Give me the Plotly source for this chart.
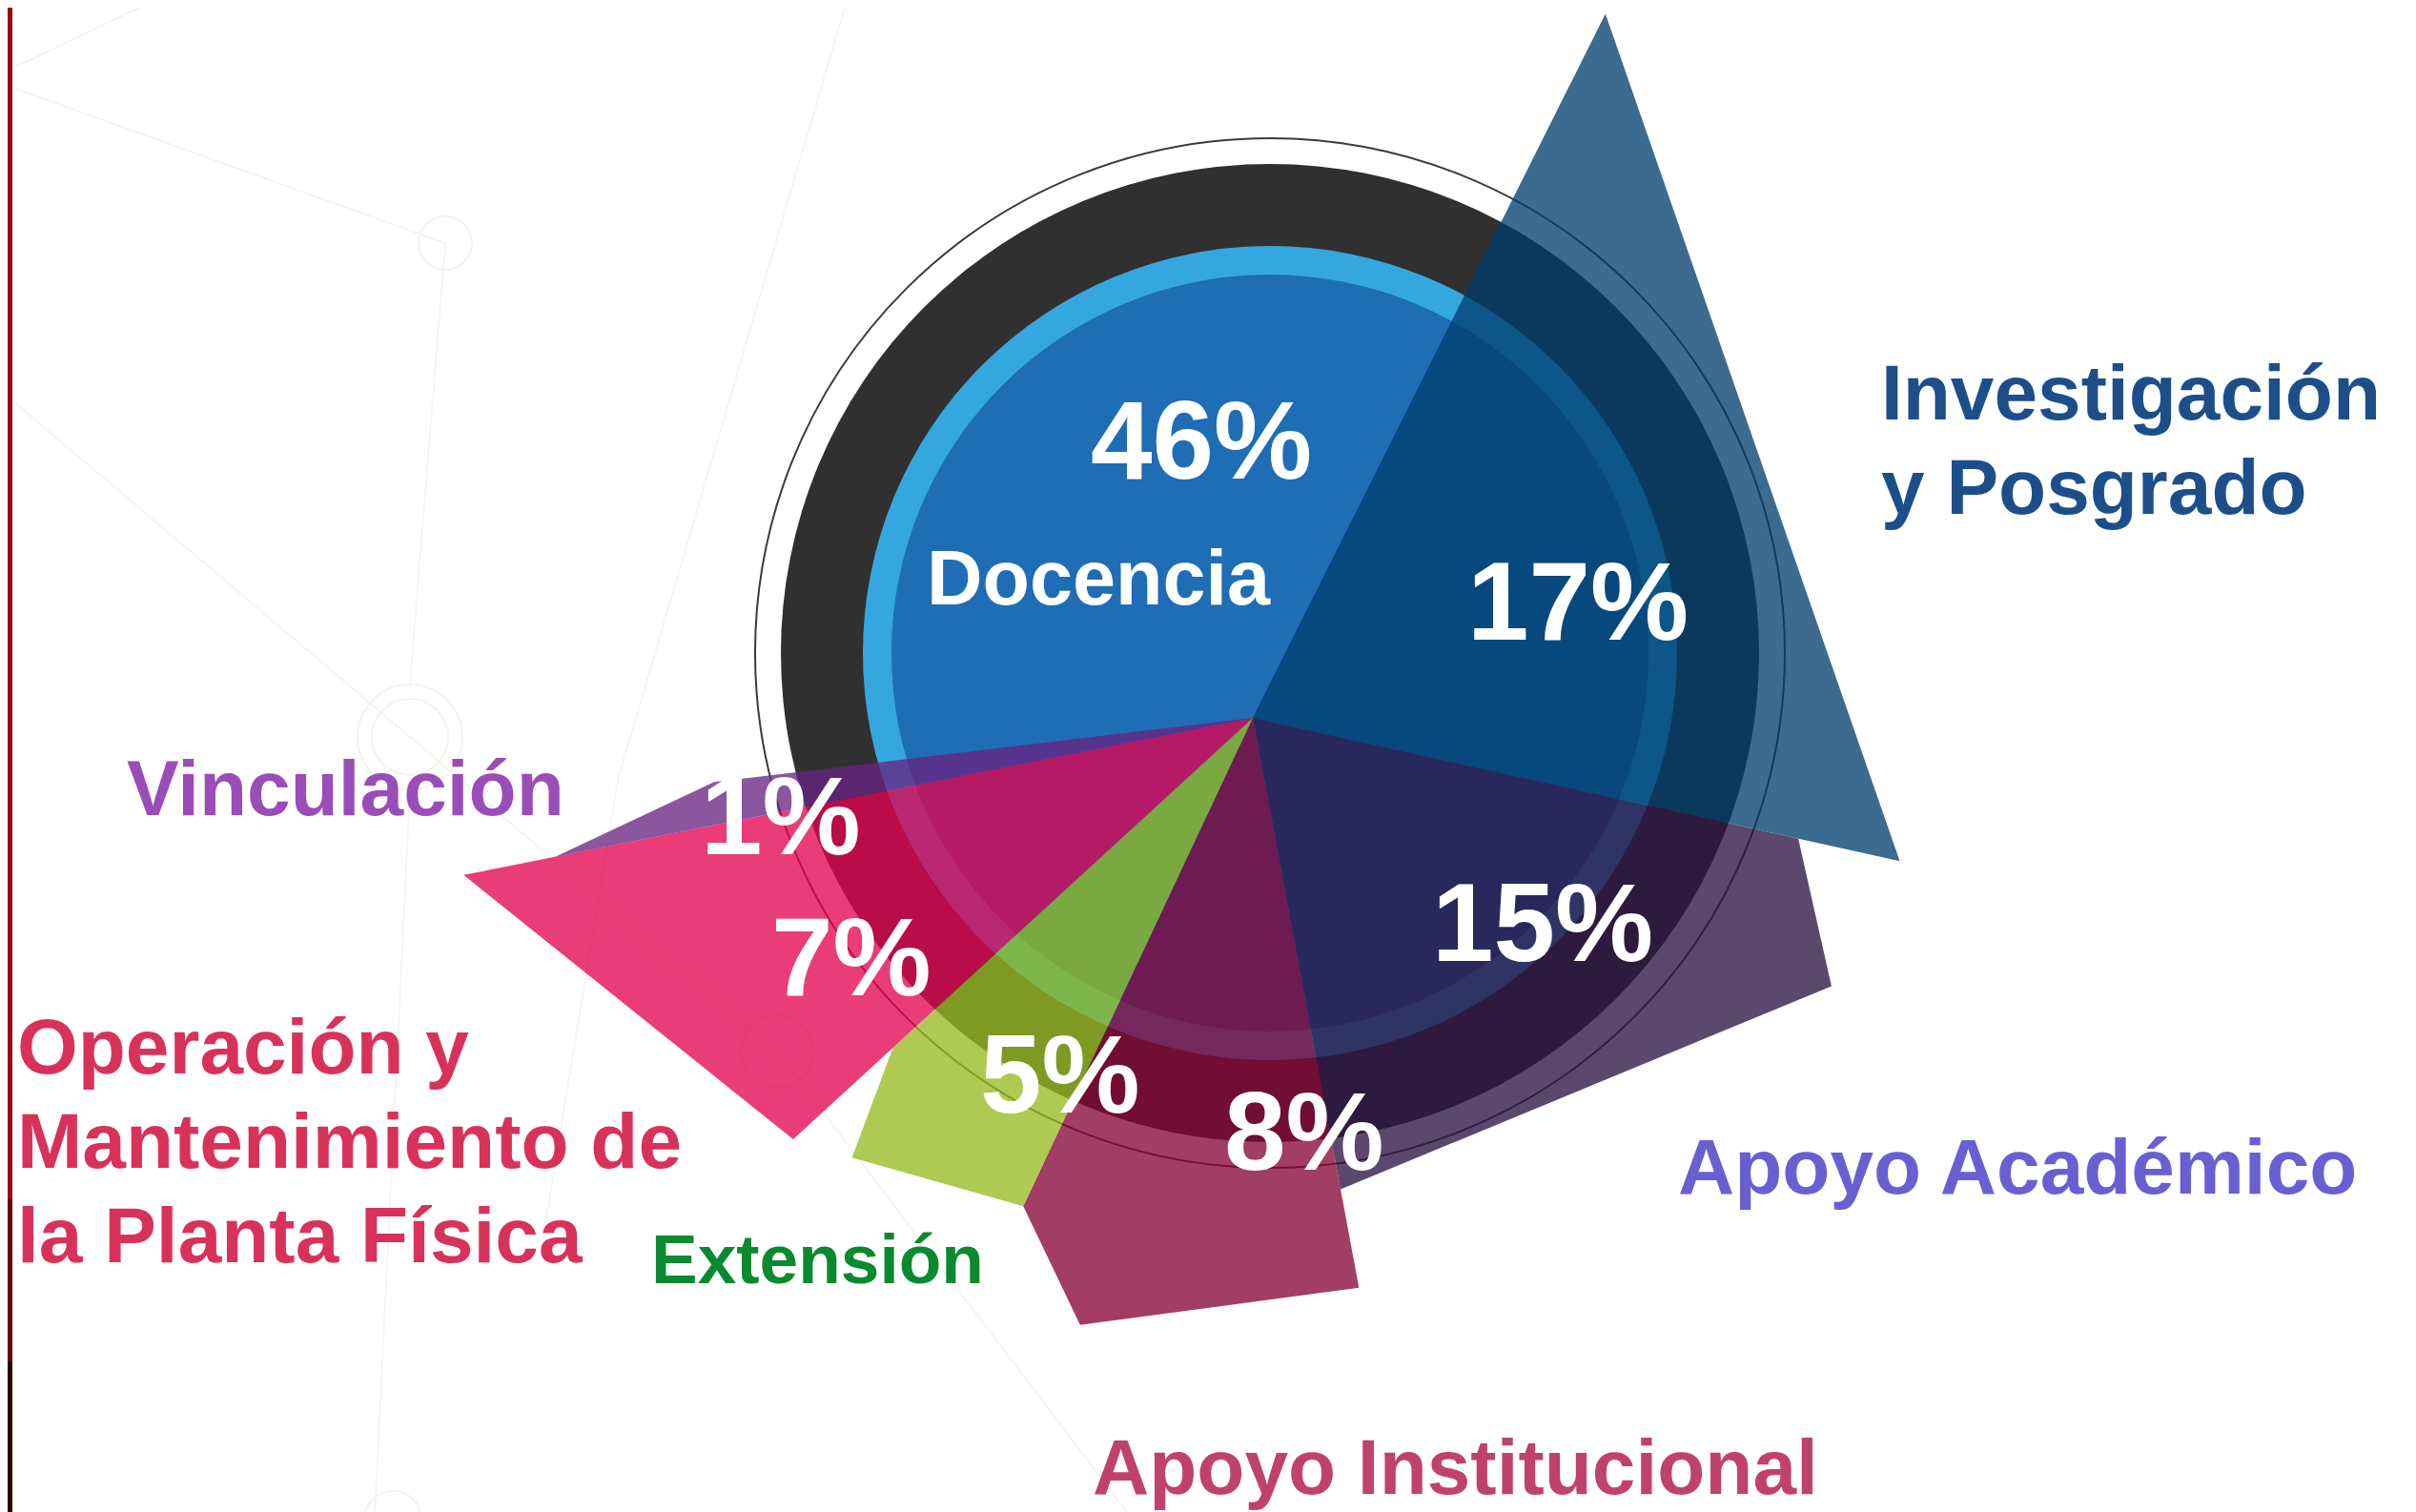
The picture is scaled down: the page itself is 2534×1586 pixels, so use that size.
import math
import plotly.graph_objects as go

# ---------------- data ----------------
categories = [
    "Docencia",
    "Investigación y Posgrado",
    "Apoyo Académico",
    "Apoyo Institucional",
    "Extensión",
    "Operación y Mantenimiento de la Planta Física",
    "Vinculación",
]
values = [46, 17, 15, 8, 5, 7, 1]  # percent of budget

# ---------------- style / layout ----------------
W, H = 2534, 1586
FONT = "Liberation Sans, Arial, sans-serif"
HUB = (1306, 745)          # common vertex of the wedges (px)
RING_C = (1324, 677)       # centre of the Docencia disc (px)
ARC_START, ARC_END = 26.6, 263.2   # sweep (deg, clockwise from 12 o'clock) shared by the outer slices

wedge_fill = [None,
              "rgba(0,61,108,0.76)",
              "rgba(45,20,66,0.78)",
              "rgba(134,3,52,0.77)",
              "rgba(149,186,30,0.77)",
              "rgba(226,1,79,0.77)",
              "rgba(103,35,129,0.77)"]
# outer outline of each wedge: (fraction of the slice's angular span, distance from hub in px)
wedge_profile = [None,
                 [(0, 826), (1, 695)],
                 [(0, 586), (0.185, 669), (1, 503)],
                 [(0, 608), (0.74, 662), (1, 566)],
                 [(0, 566), (0.77, 624), (1, 512)],
                 [(0, 654), (1, 844)],
                 [(0, 746), (1, 569)]]

# category label: left x, first baseline, font size, colour, words per line
TX, TY = -9, -7   # fine offset of all texts
label_style = [
    (972, 633, 81, "#ffffff", [1]),
    (1973, 439, 82, "#1c4f8a", [1, 2]),
    (1760, 1251, 82, "#6a5fd2", [2]),
    (1146, 1566, 82, "#c0426c", [2]),
    (683, 1345, 73, "#0a8a2f", [1]),
    (18, 1125, 82, "#d9325a", [2, 2, 3]),
    (133, 854, 82, "#9a4db9", [1]),
]
LINE_GAP = 99
# percent label centres (px)
pct_pos = [(1261, 461), (1656, 630), (1619, 967), (1369, 1186), (1113, 1126), (894, 1003), (820, 855)]
PCT_SIZE = 116

fig = go.Figure()
shapes = []

# faint background network
bg_col = "#f6f2ec"
bg_lines = [((0, 66), (138, 0)), ((0, 82), (459, 247)), ((459, 247), (422, 709)),
            ((0, 408), (422, 765)), ((878, 0), (640, 810)), ((422, 820), (385, 1586)),
            ((422, 765), (807, 1095)), ((807, 1095), (1180, 1586)), ((640, 810), (560, 1300))]
for (x0, y0), (x1, y1) in bg_lines:
    shapes.append(dict(type="line", xref="x", yref="y", x0=x0, y0=y0, x1=x1, y1=y1,
                       line=dict(color=bg_col, width=1.5), layer="below"))
for (cx, cy, r) in [(459, 247, 28), (422, 765, 55), (422, 765, 40), (807, 1095, 38), (404, 1586, 30)]:
    shapes.append(dict(type="circle", xref="x", yref="y", x0=cx - r, y0=cy - r, x1=cx + r, y1=cy + r,
                       line=dict(color=bg_col, width=2), fillcolor="rgba(0,0,0,0)", layer="below"))

# left border strip
strip = [(0, 1250, "#970b0e"), (1250, 1420, "#6a0607"), (1420, 1586, "#2e0303")]
for y0, y1, c in strip:
    shapes.append(dict(type="rect", xref="x", yref="y", x0=0, x1=5, y0=y0, y1=y1,
                       fillcolor=c, line=dict(width=0), layer="below"))

# Docencia disc (rings)
cx, cy = RING_C
for r, fill, line in [(540, "rgba(0,0,0,0)", dict(color="#3a3a3a", width=2)),
                      (513, "#303030", dict(width=0)),
                      (427, "#35a7df", dict(width=0)),
                      (397, "#1e6db5", dict(width=0))]:
    shapes.append(dict(type="circle", xref="x", yref="y", x0=cx - r, y0=cy - r, x1=cx + r, y1=cy + r,
                       fillcolor=fill, line=line, layer="below"))

# outer slices: angular span proportional to value within the shared sweep
outer_total = sum(values[1:])
deg_per = (ARC_END - ARC_START) / outer_total
a = ARC_START
hx, hy = HUB
for i in range(1, len(values)):
    a0, a1 = a, a + values[i] * deg_per
    a = a1
    xs, ys = [hx], [hy]
    for f, r in wedge_profile[i]:
        t = math.radians(a0 + f * (a1 - a0))
        xs.append(hx + r * math.sin(t))
        ys.append(hy - r * math.cos(t))
    xs.append(hx)
    ys.append(hy)
    fig.add_trace(go.Scatter(x=xs, y=ys, mode="lines", fill="toself",
                             fillcolor=wedge_fill[i], line=dict(width=0),
                             hoverinfo="text", text=f"{categories[i]}: {values[i]}%",
                             showlegend=False))

annotations = []
# category labels
for name, (lx, base, size, col, wpl) in zip(categories, label_style):
    words = name.split(" ")
    k = 0
    for j, n in enumerate(wpl):
        line_txt = " ".join(words[k:k + n])
        k += n
        bl = base + j * LINE_GAP
        annotations.append(dict(x=lx + TX, y=bl - 0.3465 * size + TY, xref="x", yref="y",
                                text=line_txt, showarrow=False, xanchor="left", yanchor="middle",
                                borderpad=0,
                                font=dict(family=FONT, size=size, color=col, weight="bold")))
# percentage labels
for v, (px, py) in zip(values, pct_pos):
    annotations.append(dict(x=px + TX, y=py + TY, xref="x", yref="y", text=f"{v}%", showarrow=False,
                            xanchor="center", yanchor="middle", borderpad=0,
                            font=dict(family=FONT, size=PCT_SIZE, color="#ffffff", weight="bold")))

fig.update_layout(
    width=W, height=H,
    margin=dict(l=0, r=0, t=0, b=0),
    paper_bgcolor="#ffffff", plot_bgcolor="#ffffff",
    xaxis=dict(range=[0, W], visible=False, fixedrange=True),
    yaxis=dict(range=[H, 0], visible=False, fixedrange=True),
    shapes=shapes, annotations=annotations, showlegend=False,
)
fig.write_html("out.html")
